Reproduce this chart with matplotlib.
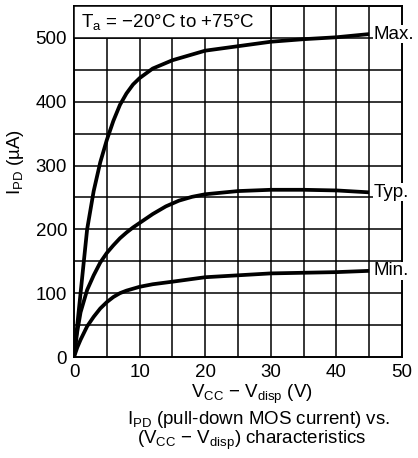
import matplotlib
matplotlib.use("Agg")
import matplotlib.pyplot as plt
from matplotlib.patches import Rectangle

plt.rcParams['font.family'] = ['Liberation Sans', 'DejaVu Sans']
plt.rcParams['mathtext.fontset'] = 'custom'
plt.rcParams['mathtext.rm'] = 'Liberation Sans'
plt.rcParams['mathtext.it'] = 'Liberation Sans'

# --- data ---
x_max = [0, 0.5, 1, 2, 3, 4, 5, 6, 7, 8, 9, 10, 12, 15, 20, 25, 30, 35, 40, 45]
y_max = [0, 50, 100, 200, 260, 305, 340, 370, 395, 413, 427, 437, 452, 465, 480, 487, 494, 498, 501, 506]

x_typ = [0, 0.5, 1, 2, 3, 4, 5, 6, 7, 8, 9, 10, 12, 14, 16, 18, 20, 25, 30, 35, 40, 45]
y_typ = [0, 40, 70, 105, 128, 148, 163, 175, 186, 195, 203, 210, 224, 236, 245, 251, 255, 260, 262, 262, 261, 258]

x_min = [0, 0.5, 1, 2, 3, 4, 5, 6, 7, 8, 10, 12, 15, 20, 25, 30, 35, 40, 45]
y_min = [0, 15, 27, 48, 63, 76, 86, 94, 100, 104, 110, 114, 118, 125, 128, 131, 132, 133, 135]

curve_labels = ["Max.", "Typ.", "Min."]
x_ticks = [0, 10, 20, 30, 40, 50]
y_ticks = [0, 100, 200, 300, 400, 500]

FS = 13.5

fig = plt.figure(figsize=(4.18, 4.58), dpi=100)
ax = fig.add_axes([74 / 418, 1 - 357 / 458, 328 / 418, 351 / 458])

ax.set_xlim(0, 50)
ax.set_ylim(0, 550)

# grid every 5 V and every 50 uA
for gx in range(5, 50, 5):
    ax.axvline(gx, color='black', lw=1.1, zorder=1)
for gy in range(50, 550, 50):
    ax.axhline(gy, color='black', lw=1.1, zorder=1)

series = [(x_max, y_max), (x_typ, y_typ), (x_min, y_min)]
for (xs, ys), lab in zip(series, curve_labels):
    ax.plot(xs, ys, color='black', lw=2.7, zorder=3, solid_capstyle='butt',
            solid_joinstyle='round')
    ax.annotate(lab, (xs[-1], ys[-1]), xytext=(3, 0), textcoords='offset points',
                va='center', ha='left', fontsize=FS, zorder=5,
                bbox=dict(facecolor='white', edgecolor='none', pad=0.3))

# temperature box in the top strip
ax.add_patch(Rectangle((0, 500), 30, 50, facecolor='white', edgecolor='black',
                       lw=1.1, zorder=4))
ax.text(1.0, 525, r'T$_\mathregular{a}$ = −20°C to +75°C', fontsize=FS,
        va='center', ha='left', zorder=5)

ax.set_xticks(x_ticks)
ax.set_yticks(y_ticks)
ax.tick_params(length=0, labelsize=FS, pad=5)
for s in ax.spines.values():
    s.set_linewidth(1.4)

fig.text(16 / 418, 1 - 162 / 458, r'I$_\mathregular{PD}$ (µA)', rotation=90,
         ha='center', va='center', fontsize=FS)
fig.text(252 / 418, 1 - 394 / 458, r'V$_\mathregular{CC}$ − V$_\mathregular{disp}$ (V)',
         ha='center', va='center', fontsize=FS)
fig.text(258 / 418, 1 - 420 / 458, r'I$_\mathregular{PD}$ (pull-down MOS current) vs.',
         ha='center', va='center', fontsize=FS)
fig.text(252 / 418, 1 - 440 / 458, r'(V$_\mathregular{CC}$ − V$_\mathregular{disp}$) characteristics',
         ha='center', va='center', fontsize=FS)

fig.savefig('out.png', dpi=100)
